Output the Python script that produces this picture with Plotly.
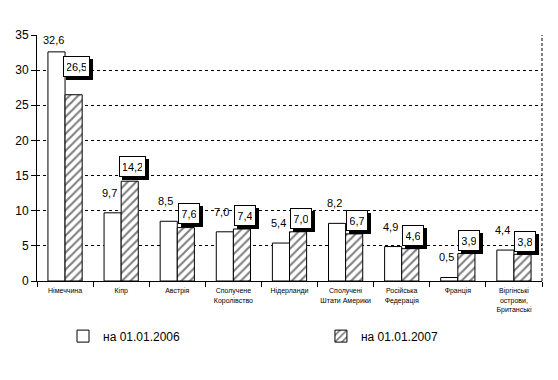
import plotly.graph_objects as go

categories = ["Німеччина", "Кіпр", "Австрія", "Сполучене<br>Королівство", "Нідерланди",
              "Сполучені<br>Штати Америки", "Російська<br>Федерація", "Франція",
              "Віргінські<br>острови,<br>Британські"]
values_2006 = [32.6, 9.7, 8.5, 7.0, 5.4, 8.2, 4.9, 0.5, 4.4]
values_2007 = [26.5, 14.2, 7.6, 7.4, 7.0, 6.7, 4.6, 3.9, 3.8]
labels_2006 = ["32,6", "9,7", "8,5", "7,0", "5,4", "8,2", "4,9", "0,5", "4,4"]
labels_2007 = ["26,5", "14,2", "7,6", "7,4", "7,0", "6,7", "4,6", "3,9", "3,8"]
series_names = ["на 01.01.2006", "на 01.01.2007"]
y_ticks = [0, 5, 10, 15, 20, 25, 30, 35]

FONT = "Liberation Sans, Arial, sans-serif"

fig = go.Figure()
fig.add_trace(go.Bar(
    x=categories, y=values_2006, name=series_names[0], legend="legend",
    marker=dict(color="white", line=dict(color="black", width=1)),
))
fig.add_trace(go.Bar(
    x=categories, y=values_2007, name=series_names[1], legend="legend2",
    marker=dict(color="white", line=dict(color="black", width=1),
                pattern=dict(shape="/", fgcolor="black", bgcolor="white", size=6, solidity=0.35)),
))

# per-label vertical offsets (pixels) as in the reference
ysh_2006 = [12] + [20] * 8
ysh_2007 = [28, 15, 14] + [13] * 6

for i, c in enumerate(categories):
    fig.add_annotation(x=c, y=values_2006[i], xref="x", yref="y", text=labels_2006[i],
                       showarrow=False, xshift=-8.5 - 3, yshift=ysh_2006[i],
                       font=dict(family=FONT, size=11, color="black"))
    w = 19 if len(labels_2007[i]) > 3 else 14
    # shadow (blank box, same size as the label box)
    fig.add_annotation(x=c, y=values_2007[i], xref="x", yref="y", text=" ",
                       width=w, height=13,
                       showarrow=False, xshift=8.5 + 3 + 3, yshift=ysh_2007[i] - 3,
                       font=dict(family=FONT, size=11, color="black"),
                       bgcolor="black", bordercolor="black", borderwidth=1, borderpad=3)
    fig.add_annotation(x=c, y=values_2007[i], xref="x", yref="y", text=labels_2007[i],
                       width=w, height=13,
                       showarrow=False, xshift=8.5 + 3, yshift=ysh_2007[i],
                       font=dict(family=FONT, size=11, color="black"),
                       bgcolor="white", bordercolor="black", borderwidth=1, borderpad=3)

fig.add_shape(type="line", xref="paper", yref="y", x0=1, x1=1, y0=0, y1=35,
              line=dict(color="black", width=1, dash="3px,2px"))

legend_common = dict(orientation="h", yanchor="middle", xanchor="left",
                     xref="container", yref="container",
                     font=dict(family=FONT, size=12, color="black"),
                     bgcolor="rgba(0,0,0,0)", itemwidth=30)

fig.update_layout(
    width=550, height=372,
    margin=dict(l=29, r=16, t=27, b=99, autoexpand=False),
    paper_bgcolor="white", plot_bgcolor="white",
    barmode="group", bargap=0.39, bargroupgap=0,
    font=dict(family=FONT, color="black"),
    showlegend=True,
    legend=dict(x=0.1, y=0.118, **legend_common),
    legend2=dict(x=0.569, y=0.118, **legend_common),
    xaxis=dict(showline=True, linecolor="black", linewidth=1, ticks="outside",
               tickson="boundaries", ticklen=5, tickcolor="black", tickangle=0,
               automargin=False, ticklabelstandoff=3,
               tickfont=dict(family=FONT, size=7, color="black"), showgrid=False),
    yaxis=dict(range=[0, 35], tickvals=y_ticks, showline=True, linecolor="black", linewidth=1,
               ticks="outside", ticklen=5, tickcolor="black", zeroline=False, automargin=False,
               showgrid=True, gridcolor="black", gridwidth=1, griddash="3px,3px",
               tickfont=dict(family=FONT, size=12, color="black")),
)

fig.write_html("out.html")
